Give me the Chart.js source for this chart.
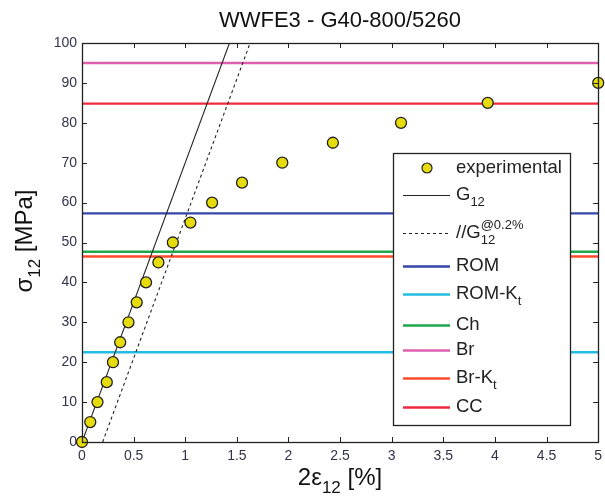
<!DOCTYPE html>
<html>
<head>
<meta charset="utf-8">
<script src="https://cdn.jsdelivr.net/npm/chart.js@4.4.0/dist/chart.umd.min.js"></script>
<style>
html,body{margin:0;padding:0;background:#fff}
</style>
</head>
<body>
<canvas id="graph" width="605" height="502"></canvas>
<script>
// experimental shear curve
const strainExp=[0,0.08,0.15,0.24,0.30,0.37,0.45,0.53,0.62,0.74,0.88,1.05,1.26,1.55,1.94,2.43,3.09,3.93,5.0]
const stressExp=[0,5,10,15,20,25,30,35,40,45,50,55,60,65,70,75,80,85,90]
// initial shear modulus (MPa per %) and offset for the 0.2% line
const G12=70
const offsetStrain=0.2
// predicted strengths
const limitNames=['ROM','ROM-Kt','Ch','Br','Br-Kt','CC']
const limitValues=[57.3,22.5,47.7,95,46.5,84.8]
const limitColors=['#3546a8','#22bde0','#1fa64a','#de5fb0','#ff4b2b','#ee2a3c']
const xMin=0, xMax=5, yMin=0, yMax=100

const FONT='"Liberation Sans", Arial, sans-serif'
const tickColor='#33334a'

function richText(ctx,parts,x,y,size,align){
    // parts: {t, sub, sup, stack}
    let w=0
    const widths=parts.map(p=>{
        ctx.font=(p.sub||p.sup?Math.round(size*0.72):size)+'px '+FONT
        return ctx.measureText(p.t).width
    })
    parts.forEach((p,i)=>{ if(!p.stack) w+=widths[i] })
    let cx=align==='center'?x-w/2:x
    let lastX=cx
    parts.forEach((p,i)=>{
        const small=p.sub||p.sup
        ctx.font=(small?Math.round(size*0.72):size)+'px '+FONT
        let dy=0
        if(p.sub) dy=size*0.42
        if(p.sup) dy=-size*0.42
        const px=p.stack?lastX:cx
        ctx.fillText(p.t,px,y+dy)
        if(!p.stack){ lastX=cx; cx+=widths[i] }
    })
}

const legendRows=[
    {kind:'point',parts:[{t:'experimental'}]},
    {kind:'solid',parts:[{t:'G'},{t:'12',sub:true}]},
    {kind:'dash',parts:[{t:'//G'},{t:'@0.2%',sup:true},{t:'12',sub:true,stack:true}]},
    {kind:0,parts:[{t:'ROM'}]},
    {kind:1,parts:[{t:'ROM-K'},{t:'t',sub:true}]},
    {kind:2,parts:[{t:'Ch'}]},
    {kind:3,parts:[{t:'Br'}]},
    {kind:4,parts:[{t:'Br-K'},{t:'t',sub:true}]},
    {kind:5,parts:[{t:'CC'}]}
]
const legendRowY=[168,195,233,266,294,325,350,378,407]

const framePlugin={
    id:'frame',
    afterDraw(chart){
        const ctx=chart.ctx
        const a=chart.chartArea
        const xs=chart.scales.x, ys=chart.scales.y
        ctx.save()
        ctx.strokeStyle='#222'
        ctx.lineWidth=1
        ctx.beginPath()
        xs.ticks.forEach(t=>{
            const px=Math.round(xs.getPixelForValue(t.value))+0.5
            ctx.moveTo(px,a.bottom); ctx.lineTo(px,a.bottom-5)
            ctx.moveTo(px,a.top); ctx.lineTo(px,a.top+5)
        })
        ys.ticks.forEach(t=>{
            const py=Math.round(ys.getPixelForValue(t.value))+0.5
            ctx.moveTo(a.left,py); ctx.lineTo(a.left+5,py)
            ctx.moveTo(a.right,py); ctx.lineTo(a.right-5,py)
        })
        ctx.stroke()
        ctx.lineWidth=1.3
        ctx.strokeRect(Math.round(a.left)+0.5,Math.round(a.top)+0.5,Math.round(a.right-a.left),Math.round(a.bottom-a.top))

        // title
        ctx.fillStyle='#111'
        ctx.textBaseline='middle'
        ctx.textAlign='left'
        ctx.font='22px '+FONT
        const title='WWFE3 - G40-800/5260'
        ctx.fillText(title,340-ctx.measureText(title).width/2,21)

        // axis titles
        richText(ctx,[{t:'2ε'},{t:'12',sub:true},{t:' [%]'}],340,478,24,'center')
        ctx.save()
        ctx.translate(25,241)
        ctx.rotate(-Math.PI/2)
        richText(ctx,[{t:'σ'},{t:'12',sub:true},{t:' [MPa]'}],0,0,24,'center')
        ctx.restore()

        // legend box
        const bx=393, by=153, bw=177, bh=272
        ctx.fillStyle='#fff'
        ctx.fillRect(bx,by,bw,bh)
        ctx.strokeStyle='#222'
        ctx.lineWidth=1.3
        ctx.strokeRect(bx+0.5,by+0.5,bw,bh)
        legendRows.forEach((r,i)=>{
            const y=legendRowY[i]
            if(r.kind==='point'){
                ctx.beginPath()
                ctx.arc(427,y,5,0,Math.PI*2)
                ctx.fillStyle='#e6dc0c'; ctx.fill()
                ctx.strokeStyle='#222'; ctx.lineWidth=1.2; ctx.stroke()
            }else{
                ctx.beginPath()
                ctx.moveTo(403,y+0.5); ctx.lineTo(450,y+0.5)
                if(r.kind==='solid'){ ctx.strokeStyle='#222'; ctx.lineWidth=1.2; ctx.setLineDash([]) }
                else if(r.kind==='dash'){ ctx.strokeStyle='#222'; ctx.lineWidth=1.2; ctx.setLineDash([3,3]) }
                else { ctx.strokeStyle=limitColors[r.kind]; ctx.lineWidth=2.5; ctx.setLineDash([]) }
                ctx.stroke()
                ctx.setLineDash([])
            }
            ctx.fillStyle='#222'
            richText(ctx,r.parts,456,y,18.5,'left')
        })
        ctx.restore()
    }
}

const datasets=[{
    label:'experimental',
    data:strainExp.map((x,i)=>({x:x,y:stressExp[i]})),
    showLine:false,
    pointRadius:5.5,
    pointBackgroundColor:'#e6dc0c',
    pointBorderColor:'#222',
    pointBorderWidth:1.3,
    clip:8
},{
    label:'G12',
    data:[{x:0,y:0},{x:yMax/G12+0.2,y:yMax+0.2*G12}],
    borderColor:'#222',borderWidth:1.1,pointRadius:0
},{
    label:'//G12@0.2%',
    data:[{x:offsetStrain,y:0},{x:offsetStrain+yMax/G12+0.2,y:yMax+0.2*G12}],
    borderColor:'#222',borderWidth:1.1,borderDash:[3,3],pointRadius:0
}]
limitNames.forEach((n,i)=>{
    datasets.push({
        label:n,
        data:[{x:xMin,y:limitValues[i]},{x:xMax,y:limitValues[i]}],
        borderColor:limitColors[i],borderWidth:2.4,pointRadius:0
    })
})

new Chart('graph',{
    type:'scatter',
    data:{datasets:datasets},
    options:{
        responsive:false,
        animation:false,
        layout:{padding:{top:43,right:-3,left:0,bottom:0}},
        datasets:{scatter:{showLine:true}},
        plugins:{legend:{display:false},title:{display:false},tooltip:{enabled:false}},
        scales:{
            x:{
                type:'linear',min:xMin,max:xMax,
                grid:{display:false,drawTicks:false},
                border:{display:false},
                ticks:{stepSize:0.5,padding:6,color:tickColor,font:{family:FONT,size:14},callback:v=>String(v)},
                afterFit(s){ s.height=60; s.paddingRight=0; s.paddingLeft=0 }
            },
            y:{
                type:'linear',min:yMin,max:yMax,
                grid:{display:false,drawTicks:false},
                border:{display:false},
                ticks:{stepSize:10,padding:5,color:tickColor,font:{family:FONT,size:14},callback:v=>String(v)},
                afterFit(s){ s.width=82; s.paddingTop=0; s.paddingBottom=0 }
            }
        }
    },
    plugins:[framePlugin]
})
</script>
</body>
</html>
